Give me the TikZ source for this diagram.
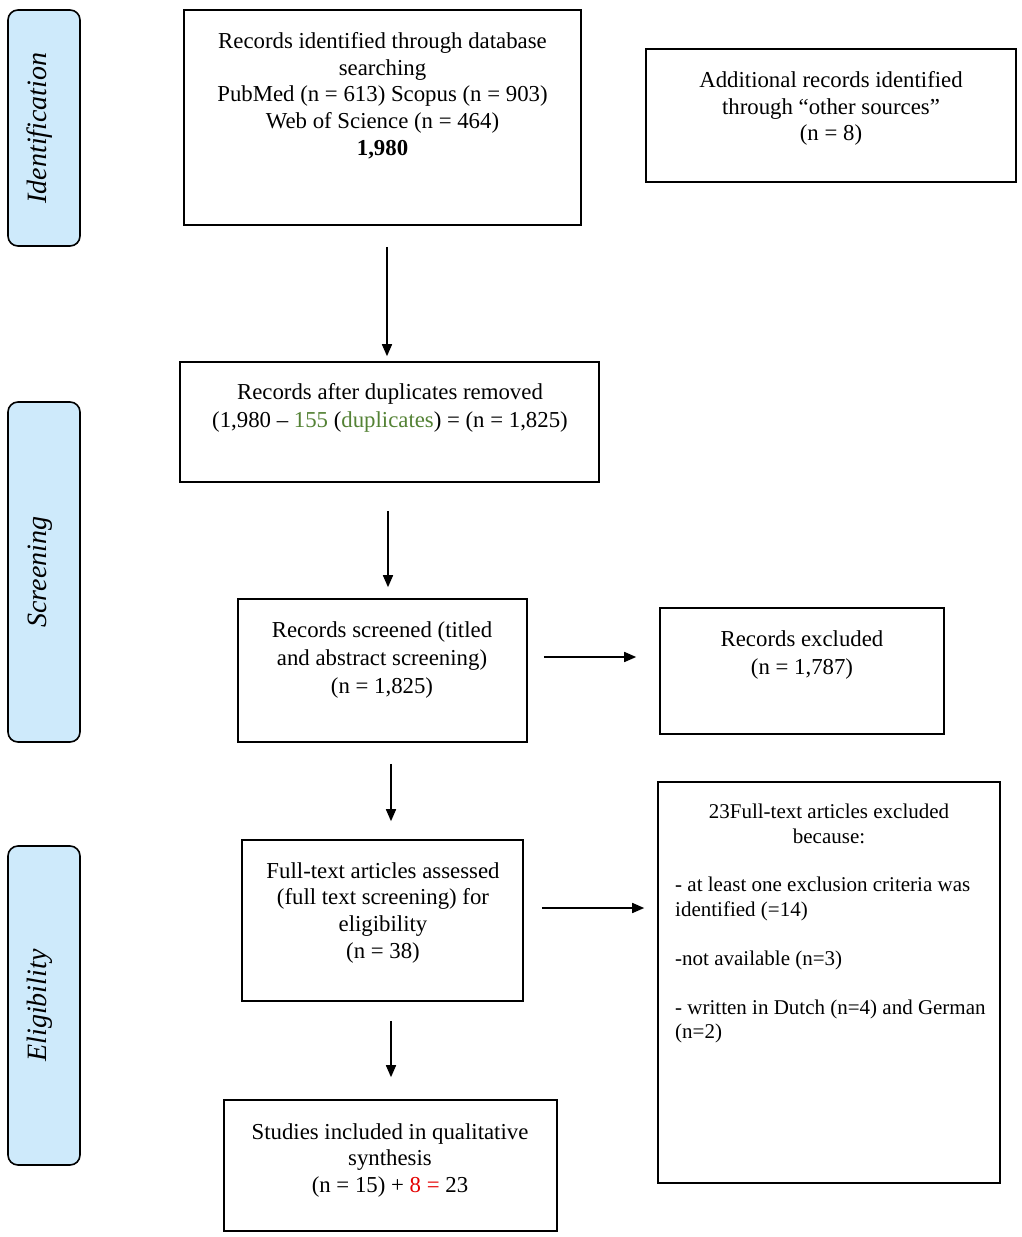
\documentclass[tikz,border=0pt]{standalone}
\usepackage{fontspec}
\setmainfont{Liberation Serif}
\usetikzlibrary{arrows.meta}
\definecolor{sidefill}{RGB}{206,234,251}
\definecolor{dupgreen}{RGB}{84,130,53}
\definecolor{addred}{RGB}{228,0,0}
\tikzset{
  box/.style={draw=black, line width=1.6pt, inner sep=0pt},
  side/.style={draw=black, line width=1.6pt, fill=sidefill, rounded corners=10pt, inner sep=0pt},
  txt/.style={inner sep=0pt, align=center, anchor=north, font=\fontsize{22.8}{26.8}\selectfont},
  widetxt/.style={inner sep=0pt, align=center, anchor=north, font=\fontsize{22.8}{28}\selectfont},
  smalltxt/.style={inner sep=0pt, anchor=north, font=\fontsize{21}{24.5}\selectfont},
  sidetxt/.style={inner sep=0pt, rotate=90, font=\fontsize{28}{32}\selectfont\itshape},
  arr/.style={line width=1.6pt, -{Triangle[length=12pt,width=10pt]}}
}
\begin{document}
\begin{tikzpicture}[x=1pt,y=-1pt]
\useasboundingbox (0,0) rectangle (1022,1237);
% sidebars
\node[side, minimum width=72pt, minimum height=236pt] (sid) at (44,128) {};
\node[sidetxt] (sidt) at (40,128) {Identification};
\node[side, minimum width=72pt, minimum height=340pt] (sscr) at (44,572) {};
\node[sidetxt] (sscrt) at (40,572) {Screening};
\node[side, minimum width=72pt, minimum height=319pt] (selg) at (44,1005.5) {};
\node[sidetxt] (selgt) at (40,1005.5) {Eligibility};
% boxes
\node[box, minimum width=397pt, minimum height=215pt] (b1) at (382.5,117.5) {};
\node[txt] (b1t) at (382.5,32) {Records identified through database\\searching\\PubMed (n = 613) Scopus (n = 903)\\Web of Science (n = 464)\\\textbf{1,980}};
\node[box, minimum width=370pt, minimum height=133pt] (b2) at (831,115.5) {};
\node[txt] (b2t) at (831,71) {Additional records identified\\through “other sources”\\(n = 8)};
\node[box, minimum width=419pt, minimum height=120pt] (b3) at (389.5,422) {};
\node[widetxt] (b3t) at (390,383) {Records after duplicates removed\\(1,980 – \textcolor{dupgreen}{155} (\textcolor{dupgreen}{duplicates}) = (n = 1,825)};
\node[box, minimum width=289pt, minimum height=143pt] (b4) at (382.5,670.5) {};
\node[widetxt] (b4t) at (382,621) {Records screened (titled\\and abstract screening)\\(n = 1,825)};
\node[box, minimum width=284pt, minimum height=126pt] (b5) at (802,671) {};
\node[widetxt] (b5t) at (802,630) {Records excluded\\(n = 1,787)};
\node[box, minimum width=281pt, minimum height=161pt] (b6) at (382.5,920.5) {};
\node[txt] (b6t) at (383,862) {Full-text articles assessed\\(full text screening) for\\eligibility\\(n = 38)};
\node[box, minimum width=342pt, minimum height=401pt] (b7) at (829,982.5) {};
\node[smalltxt, align=center] (b7h) at (829,804) {23Full-text articles excluded\\because:};
\node[smalltxt, align=left, anchor=north west] (b7l) at (675,877) {- at least one exclusion criteria was\\identified (=14)\\[24.5pt]-not available (n=3)\\[24.5pt]- written in Dutch (n=4) and German\\(n=2)};
\node[box, minimum width=333pt, minimum height=131pt] (b8) at (390.5,1165.5) {};
\node[txt] (b8t) at (390,1123) {Studies included in qualitative\\synthesis\\(n = 15) + \textcolor{addred}{8 =} 23};
% arrows
\coordinate (xa) at (387,0);
\coordinate (xb) at (388,0);
\coordinate (xc) at (391,0);
\coordinate (yc) at (0,657);
\coordinate (yd) at (0,908);
\draw[arr, shorten <=21pt, shorten >=5pt] (b1.south -| xa) -- (b3.north -| xa);
\draw[arr, shorten <=28pt, shorten >=11pt] (b3.south -| xb) -- (b4.north -| xb);
\draw[arr, shorten <=16pt, shorten >=23pt] (b4.east |- yc) -- (b5.west |- yc);
\draw[arr, shorten <=21pt, shorten >=18pt] (b4.south -| xc) -- (b6.north -| xc);
\draw[arr, shorten <=18pt, shorten >=13pt] (b6.east |- yd) -- (b7.west |- yd);
\draw[arr, shorten <=19pt, shorten >=22pt] (b6.south -| xc) -- (b8.north -| xc);
\end{tikzpicture}
\end{document}
